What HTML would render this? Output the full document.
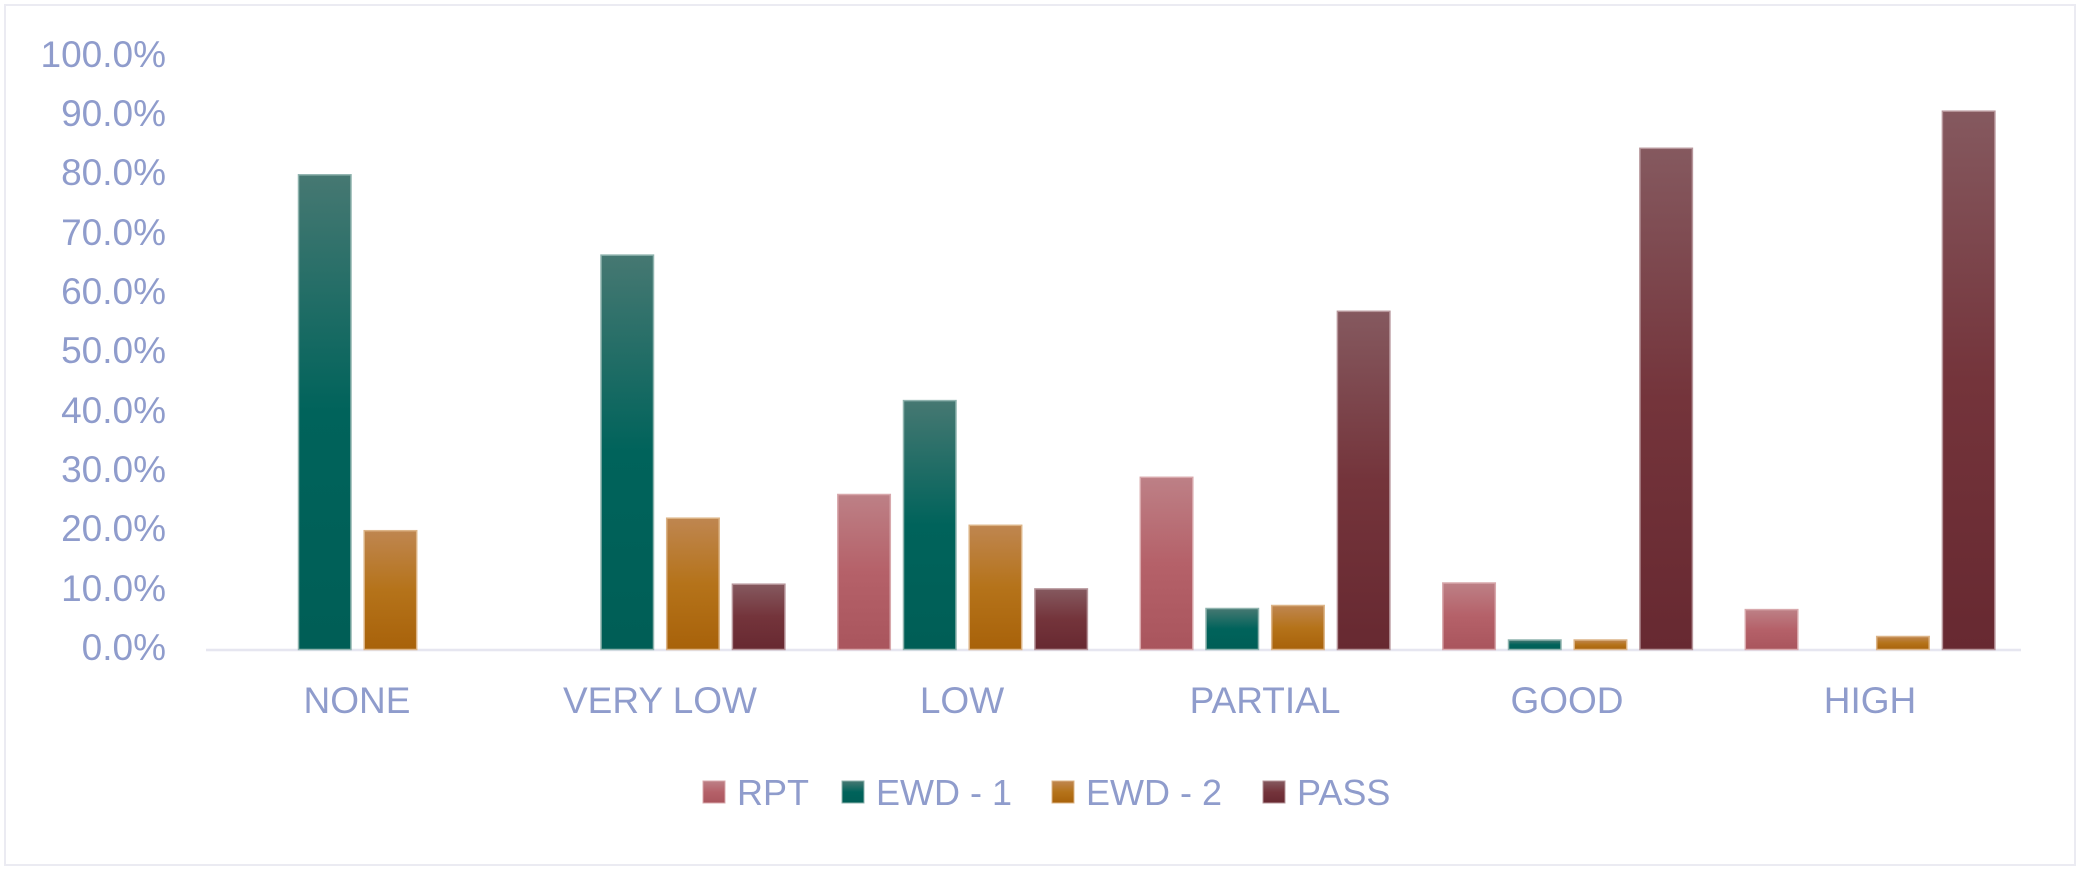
<!DOCTYPE html>
<html><head><meta charset="utf-8"><style>
html,body{margin:0;padding:0;background:#fff;}
svg{display:block;}
text{font-family:"Liberation Sans",sans-serif;fill:#8f9ccc;}
</style></head><body>
<svg width="2080" height="870" viewBox="0 0 2080 870" xmlns="http://www.w3.org/2000/svg">
<defs>
<linearGradient id="gR" x1="0" y1="0" x2="0" y2="1"><stop offset="0" stop-color="#bd8086"/><stop offset="0.5" stop-color="#b56169"/><stop offset="1" stop-color="#a9555d"/></linearGradient>
<linearGradient id="gE1" x1="0" y1="0" x2="0" y2="1"><stop offset="0" stop-color="#467872"/><stop offset="0.5" stop-color="#00635b"/><stop offset="1" stop-color="#005e56"/></linearGradient>
<linearGradient id="gE2" x1="0" y1="0" x2="0" y2="1"><stop offset="0" stop-color="#bf8650"/><stop offset="0.5" stop-color="#b5731a"/><stop offset="1" stop-color="#a8620a"/></linearGradient>
<linearGradient id="gP" x1="0" y1="0" x2="0" y2="1"><stop offset="0" stop-color="#85595f"/><stop offset="0.5" stop-color="#74343b"/><stop offset="1" stop-color="#672931"/></linearGradient>
</defs>
<rect x="5" y="5" width="2070" height="860" fill="#fff" stroke="#ebebf2" stroke-width="2"/>
<g font-size="37" text-anchor="end">
<text x="166" y="67">100.0%</text>
<text x="166" y="126">90.0%</text>
<text x="166" y="185">80.0%</text>
<text x="166" y="245">70.0%</text>
<text x="166" y="304">60.0%</text>
<text x="166" y="363">50.0%</text>
<text x="166" y="423">40.0%</text>
<text x="166" y="482">30.0%</text>
<text x="166" y="541">20.0%</text>
<text x="166" y="601">10.0%</text>
<text x="166" y="660">0.0%</text>
</g>
<line x1="206" y1="650" x2="2021" y2="650" stroke="#e6e6f0" stroke-width="2.5"/>
<g id="bars" stroke-width="1.5"></g>
<g font-size="37" text-anchor="middle">
<text x="357" y="713">NONE</text>
<text x="660" y="713">VERY LOW</text>
<text x="962" y="713">LOW</text>
<text x="1265" y="713">PARTIAL</text>
<text x="1567" y="713">GOOD</text>
<text x="1870" y="713">HIGH</text>
</g>
<g font-size="36">
<rect x="703" y="781" width="22" height="22" fill="url(#gR)" stroke="#d8a8ac"/>
<text x="737" y="805">RPT</text>
<rect x="842" y="781" width="22" height="22" fill="url(#gE1)" stroke="#8fb3ae"/>
<text x="876" y="805">EWD - 1</text>
<rect x="1052" y="781" width="22" height="22" fill="url(#gE2)" stroke="#dcb487"/>
<text x="1086" y="805">EWD - 2</text>
<rect x="1263" y="781" width="22" height="22" fill="url(#gP)" stroke="#b6959a"/>
<text x="1297" y="805">PASS</text>
</g>
<g stroke-width="1.5">
<!-- NONE -->
<rect x="298.5" y="174.8" width="52.5" height="474.7" fill="url(#gE1)" stroke="#8fb3ae"/>
<rect x="364.2" y="530.7" width="52.5" height="118.8" fill="url(#gE2)" stroke="#dcb487"/>
<!-- VERY LOW -->
<rect x="601" y="255.1" width="52.5" height="394.4" fill="url(#gE1)" stroke="#8fb3ae"/>
<rect x="666.7" y="518.2" width="52.5" height="131.3" fill="url(#gE2)" stroke="#dcb487"/>
<rect x="732.4" y="584.2" width="52.5" height="65.3" fill="url(#gP)" stroke="#b6959a"/>
<!-- LOW -->
<rect x="837.8" y="494.5" width="52.5" height="155" fill="url(#gR)" stroke="#d8a8ac"/>
<rect x="903.5" y="400.6" width="52.5" height="248.9" fill="url(#gE1)" stroke="#8fb3ae"/>
<rect x="969.2" y="525.3" width="52.5" height="124.2" fill="url(#gE2)" stroke="#dcb487"/>
<rect x="1034.9" y="588.9" width="52.5" height="60.6" fill="url(#gP)" stroke="#b6959a"/>
<!-- PARTIAL -->
<rect x="1140.3" y="477.3" width="52.5" height="172.2" fill="url(#gR)" stroke="#d8a8ac"/>
<rect x="1206" y="608.5" width="52.5" height="41" fill="url(#gE1)" stroke="#8fb3ae"/>
<rect x="1271.7" y="605.5" width="52.5" height="44" fill="url(#gE2)" stroke="#dcb487"/>
<rect x="1337.4" y="311.3" width="52.5" height="338.2" fill="url(#gP)" stroke="#b6959a"/>
<!-- GOOD -->
<rect x="1442.8" y="583" width="52.5" height="66.5" fill="url(#gR)" stroke="#d8a8ac"/>
<rect x="1508.5" y="640" width="52.5" height="9.5" fill="url(#gE1)" stroke="#8fb3ae"/>
<rect x="1574.2" y="640" width="52.5" height="9.5" fill="url(#gE2)" stroke="#dcb487"/>
<rect x="1639.9" y="148.3" width="52.5" height="501.2" fill="url(#gP)" stroke="#b6959a"/>
<!-- HIGH -->
<rect x="1745.3" y="609.6" width="52.5" height="39.9" fill="url(#gR)" stroke="#d8a8ac"/>
<rect x="1876.7" y="636.5" width="52.5" height="13" fill="url(#gE2)" stroke="#dcb487"/>
<rect x="1942.4" y="111.2" width="52.5" height="538.3" fill="url(#gP)" stroke="#b6959a"/>
</g>
</svg>
</body></html>
